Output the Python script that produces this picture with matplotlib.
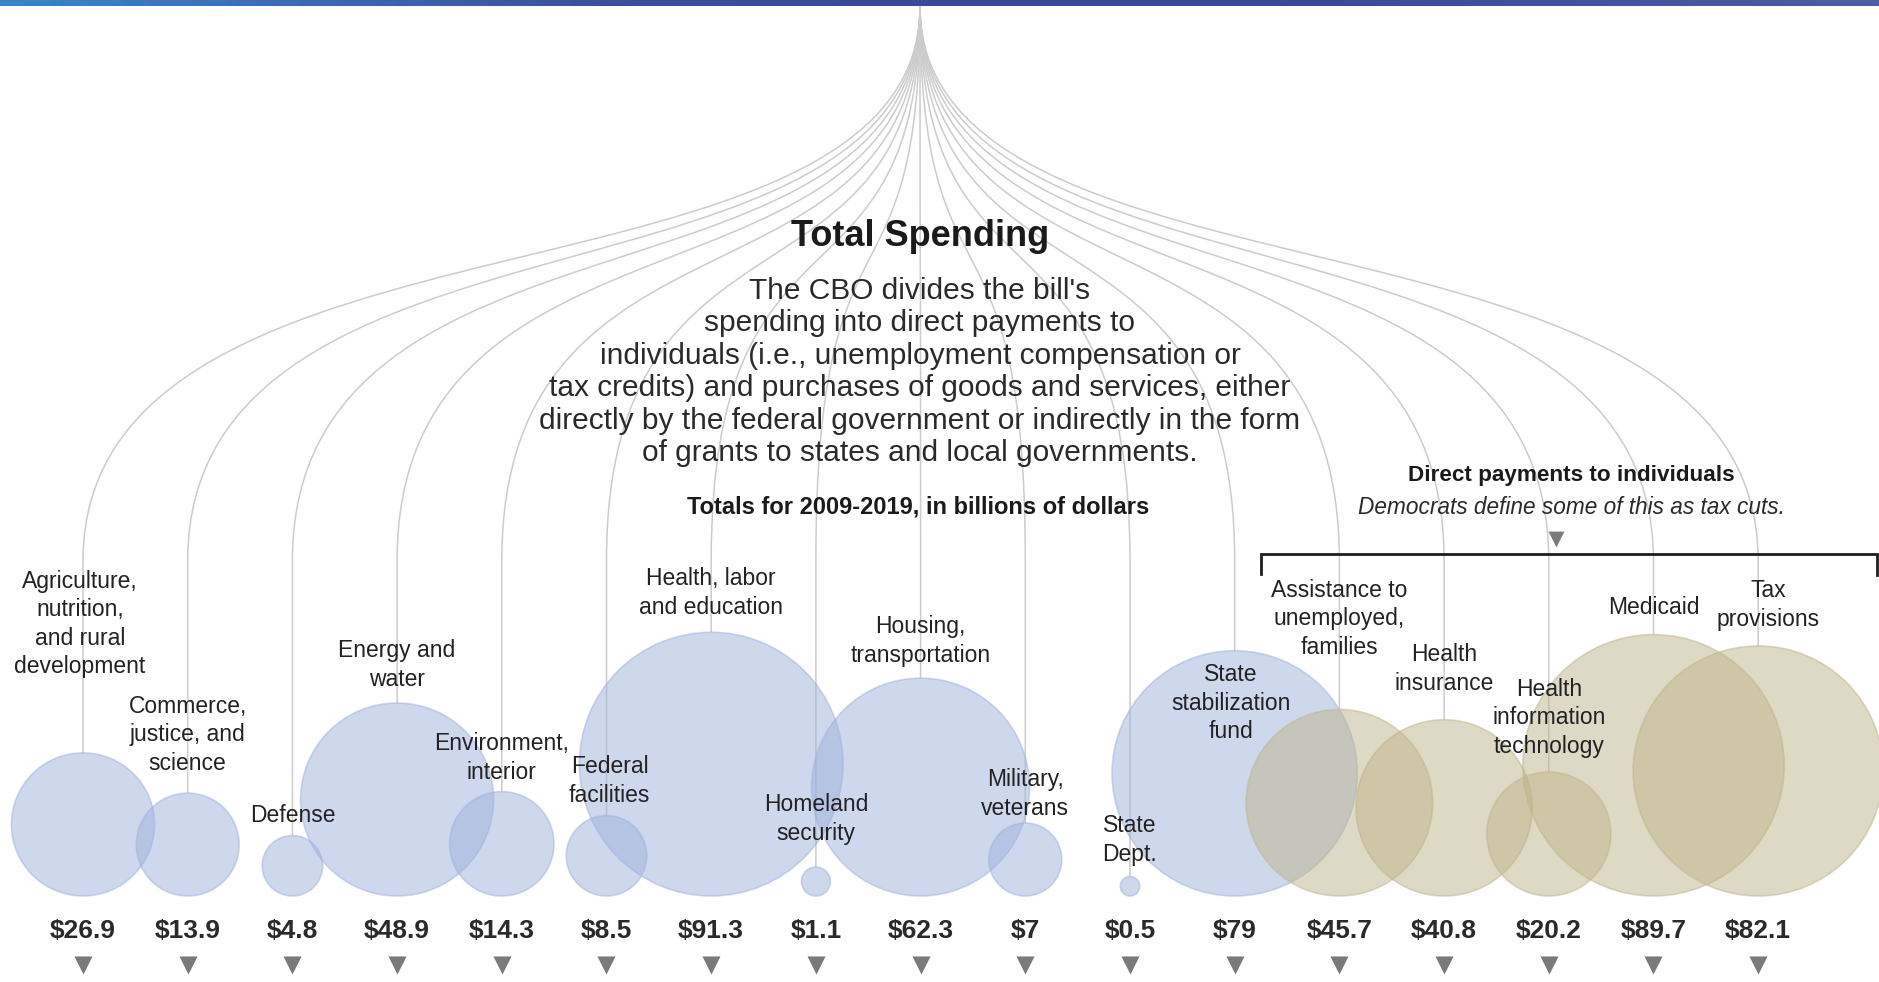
import numpy as np
import matplotlib.pyplot as plt
from matplotlib.patches import Circle, PathPatch
from matplotlib.path import Path
from matplotlib.colors import LinearSegmentedColormap

plt.rcParams['font.family'] = ['Liberation Sans', 'DejaVu Sans']

# data (billions of dollars, 2009-2019)
categories = [
    "Agriculture,\nnutrition,\nand rural\ndevelopment",
    "Commerce,\njustice, and\nscience",
    "Defense",
    "Energy and\nwater",
    "Environment,\ninterior",
    "Federal\nfacilities",
    "Health, labor\nand education",
    "Homeland\nsecurity",
    "Housing,\ntransportation",
    "Military,\nveterans",
    "State\nDept.",
    "State\nstabilization\nfund",
    "Assistance to\nunemployed,\nfamilies",
    "Health\ninsurance",
    "Health\ninformation\ntechnology",
    "Medicaid",
    "Tax\nprovisions",
]
values = [26.9, 13.9, 4.8, 48.9, 14.3, 8.5, 91.3, 1.1, 62.3, 7, 0.5, 79,
          45.7, 40.8, 20.2, 89.7, 82.1]
direct_payment = [False] * 12 + [True] * 5

# layout (pixels, y downwards)
W, H = 1879, 982
x0, step = 83, 104.7
apex_x, apex_y = 920, 6
baseline = 896
k = 13.8                      # radius = k * sqrt(value)
label_y = [624, 735, 815, 665, 758, 781, 593, 819, 641, 794, 840, 703,
           619, 669, 718, 608, 605]
label_dx = [-3, 0, 0, 0, 0, 3, 0, 0, 0, 0, 0, -4, 0, 0, 0, 0, 10]

fig = plt.figure(figsize=(W / 100, H / 100), dpi=100)
ax = fig.add_axes([0, 0, 1, 1])

# top colour band
band = LinearSegmentedColormap.from_list(
    "band", ["#3b85c9", "#3a4d9e", "#39479a", "#4a5ca4"])
ax.imshow(np.linspace(0, 1, 256)[None, :], cmap=band, aspect='auto',
          extent=[0, W, 6, 0], zorder=5)

xs = x0 + step * np.arange(len(values))
radii = k * np.sqrt(values)

# fan of lines from the apex to the top of every bubble
for x, r in zip(xs, radii):
    top = baseline - 2 * r
    verts = [(apex_x, apex_y), (apex_x, 327), (x, 182), (x, 561), (x, top)]
    codes = [Path.MOVETO, Path.CURVE4, Path.CURVE4, Path.CURVE4, Path.LINETO]
    ax.add_patch(PathPatch(Path(verts, codes), fill=False,
                           edgecolor="#cccccc", lw=1.1, zorder=1))

# bubbles
for x, r, d in zip(xs, radii, direct_payment):
    col = "#bfb48a" if d else "#9fb2dc"
    ax.add_patch(Circle((x, baseline - r), r, facecolor=col, alpha=0.5,
                        edgecolor=col, lw=1.2, zorder=2))

# category labels
for x, lab, ly, dx in zip(xs, categories, label_y, label_dx):
    ax.text(x + dx, ly, lab, ha='center', va='center', fontsize=16.5,
            color="#222222", linespacing=1.3, zorder=4)

# values and arrows
for x, v in zip(xs, values):
    ax.text(x, 931, f"${v:g}", ha='center', va='center', fontsize=19,
            fontweight='bold', color="#2a2a2a", zorder=4)
ax.scatter(xs, np.full(len(xs), 965), marker='v', s=170, color="#7a7a7a",
           linewidths=0, zorder=4)

# headline block
ax.text(apex_x, 236, "Total Spending", ha='center', va='center',
        fontsize=26, fontweight='bold', color="#1a1a1a", zorder=4)
ax.text(apex_x, 372,
        "The CBO divides the bill's\n"
        "spending into direct payments to\n"
        "individuals (i.e., unemployment compensation or\n"
        "tax credits) and purchases of goods and services, either\n"
        "directly by the federal government or indirectly in the form\n"
        "of grants to states and local governments.",
        ha='center', va='center', fontsize=21.5, color="#2a2a2a",
        linespacing=1.2, zorder=4)
ax.text(918, 507, "Totals for 2009-2019, in billions of dollars",
        ha='center', va='center', fontsize=17, fontweight='bold',
        color="#1a1a1a", zorder=4)

# direct payments bracket
ax.text(1571, 475, "Direct payments to individuals", ha='center',
        va='center', fontsize=16.2, fontweight='bold', color="#1a1a1a")
ax.text(1571, 508, "Democrats define some of this as tax cuts.",
        ha='center', va='center', fontsize=16.3, style='italic',
        color="#2a2a2a")
ax.scatter([1556], [539], marker='v', s=130, color="#7a7a7a", linewidths=0)
bl, br = xs[12] - 0.75 * step, W - 2
ax.plot([bl, bl, br, br], [574, 554, 554, 575], color="#1e1e1e", lw=2,
        solid_joinstyle='miter', zorder=4)

ax.set_xlim(0, W)
ax.set_ylim(H, 0)
ax.axis('off')
fig.savefig("out.png", dpi=100, facecolor='white')
